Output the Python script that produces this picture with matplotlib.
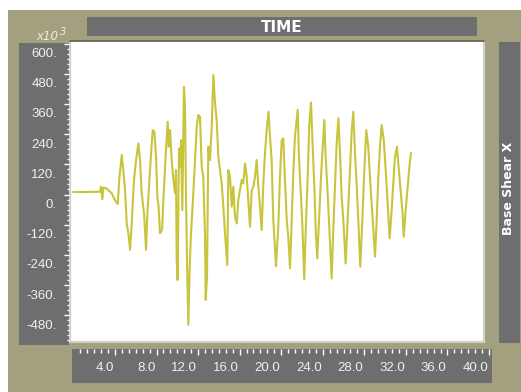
import matplotlib
matplotlib.use('Agg')
import matplotlib.pyplot as plt
from matplotlib.patches import Rectangle
from matplotlib.ticker import MultipleLocator, FixedLocator
from matplotlib.transforms import offset_copy

# colours
KHAKI = '#a2a07e'
PANEL = '#6e6e6e'
TRACE = '#c8c43c'
LABEL = '#f0f0f0'

# time history (time in s, base shear in 10^3)
time = [0.0, 1.28, 2.56, 2.66, 2.78, 2.88, 3.2, 3.68, 4.0, 4.26,
        4.42, 4.65, 4.8, 4.97, 5.13, 5.29, 5.45, 5.61, 5.83, 6.03,
        6.25, 6.41, 6.57, 6.8, 6.99, 7.12, 7.37, 7.63, 7.79, 7.95,
        8.08, 8.2, 8.33, 8.53, 8.72, 8.91, 9.07, 9.18, 9.3, 9.46,
        9.62, 9.78, 9.87, 9.94, 10.03, 10.16, 10.26, 10.36, 10.48, 10.64,
        10.74, 10.84, 10.93, 11.06, 11.19, 11.32, 11.54, 11.7, 11.87, 12.02,
        12.18, 12.35, 12.5, 12.67, 12.73, 12.86, 12.98, 13.15, 13.31, 13.47,
        13.63, 13.79, 13.95, 14.11, 14.27, 14.43, 14.59, 14.81, 14.91, 15.07,
        15.24, 15.39, 15.55, 15.72, 15.87, 16.03, 16.2, 16.35, 16.52, 16.68,
        16.83, 17.0, 17.16, 17.32, 17.48, 17.64, 17.8, 17.96, 18.12, 18.28,
        18.44, 18.6, 18.78, 18.92, 19.08, 19.24, 19.5, 19.72, 19.88, 20.05,
        20.2, 20.36, 20.53, 20.68, 20.85, 21.01, 21.16, 21.32, 21.59, 21.71,
        21.9, 22.03, 22.22, 22.36, 22.55, 22.7, 22.87, 22.99, 23.19, 23.32,
        23.47, 23.64, 23.83, 23.96, 24.15, 24.28, 24.47, 24.7, 24.86, 25.01,
        25.18, 25.34, 25.5, 25.66, 25.82, 26.02, 26.2, 26.4, 26.62, 26.79,
        26.94, 27.1, 27.27, 27.42, 27.61, 27.81, 28.0, 28.19, 28.38, 28.58,
        28.77, 29.03, 29.19, 29.35, 29.51, 29.67, 29.87, 30.06, 30.25, 30.44,
        30.63, 30.83, 30.95, 31.15, 31.27, 31.46, 31.66, 31.79, 31.98, 32.17,
        32.37, 32.49]
shear = [10, 10, 11, 31, -19, 27, 24, 5, -22, -38,
         64, 157, 97, 18, -115, -154, -220, -115, 58, 137,
         203, 137, 5, -75, -220, -75, 97, 256, 250, 150,
         -9, -48, -154, -141, 31, 177, 289, 190, 256, 137,
         58, 5, 97, -260, -340, 183, 110, 216, -62, 428,
         349, -22, -260, -518, -287, -154, 5, 137, 269, 316,
         309, 110, 71, -168, -419, -327, 190, 137, 269, 475,
         362, 296, 150, 97, 44, -48, -154, -280, 97, 71,
         -48, 31, -88, -115, -22, 18, 58, 44, 124, 71,
         -22, -128, 18, 31, 71, 137, 31, -48, -141, 44,
         164, 256, 329, 230, 137, -101, -285, -128, 71, 216,
         223, 58, -101, -168, -293, -101, 84, 230, 336, 150,
         -9, -115, -337, -141, 71, 276, 366, 230, 31, -141,
         -254, -101, 71, 164, 296, 150, 5, -194, -333, -141,
         31, 203, 303, 164, -9, -128, -274, -101, 97, 256,
         329, 164, 31, -101, -287, -101, 97, 256, 190, 44,
         -75, -247, -101, 71, 190, 276, 216, 97, -35, -174,
         -62, 71, 150, 190, 124, 31, -62, -168, -62, 31,
         124, 164]

x_major = [4, 8, 12, 16, 20, 24, 28, 32, 36, 40]
y_major = [-480, -360, -240, -120, 0, 120, 240, 360, 480, 600]

W, H = 521, 392


def box(x0, y0, x1, y1):
    # pixel box (top-left origin) -> figure fraction rect
    return [x0 / W, 1 - y1 / H, (x1 - x0) / W, (y1 - y0) / H]


def blank(ax):
    ax.set_facecolor(PANEL)
    ax.set_xticks([])
    ax.set_yticks([])
    for s in ax.spines.values():
        s.set_visible(False)


fig = plt.figure(figsize=(W / 100, H / 100), dpi=100)
fig.patch.set_facecolor('white')
fig.add_artist(Rectangle((8 / W, 0), 1 - 8 / W, 1 - 10 / H,
                         transform=fig.transFigure, facecolor=KHAKI,
                         edgecolor='none', zorder=0))

# title bar
ax_t = fig.add_axes(box(87, 17, 477, 36))
blank(ax_t)
ax_t.text(0.5, 0.21, 'TIME', transform=ax_t.transAxes, ha='center',
          va='baseline', color='white', fontsize=11, fontweight='bold',
          family='DejaVu Sans')

# right label bar
ax_r = fig.add_axes(box(499, 42, 520, 343))
blank(ax_r)
ax_r.text(0.6, 0.515, 'Base Shear X', transform=ax_r.transAxes,
          rotation=90, rotation_mode='anchor', ha='center', va='baseline',
          color='white', fontsize=9, fontweight='bold', family='DejaVu Sans')

# main plot
ax = fig.add_axes(box(70, 41, 484, 342))
ax.set_facecolor('white')
ax.plot(time, shear, color=TRACE, lw=1.5)
ax.set_xlim(-0.33, 39.52)
ax.set_ylim(-586, 610)
ax.set_xticks([])
ax.set_yticks([])
ax.spines['top'].set_color('#5e5d48')
ax.spines['top'].set_linewidth(1.2)
for side in ['left', 'bottom', 'right']:
    ax.spines[side].set_color('#cfcfc8')
    ax.spines[side].set_linewidth(1.6)

# left value axis panel
ax_l = fig.add_axes(box(19, 43, 69, 345))
ax_l.set_facecolor(PANEL)
for s in ax_l.spines.values():
    s.set_visible(False)
ax_l.set_xticks([])
ax_l.set_ylim(-598, 602)
ax_l.yaxis.set_ticks_position('right')
ax_l.yaxis.set_major_locator(FixedLocator(y_major + [-600]))
ax_l.yaxis.set_minor_locator(MultipleLocator(20))
ax_l.tick_params(axis='y', which='major', direction='in', length=3.6,
                 width=1, color='white', labelright=False, labelleft=False)
ax_l.tick_params(axis='y', which='minor', direction='in', length=1.1,
                 width=1, color='white')
ytr = offset_copy(ax_l.get_yaxis_transform(), fig=fig, x=0, y=-13.5,
                  units='dots')
for v in y_major:
    ax_l.text(0.76, v, f'{v:.0f}.', transform=ytr, ha='right',
              va='baseline', color=LABEL, fontsize=9.5,
              family='Liberation Sans')

# bottom time axis panel
ax_b = fig.add_axes(box(72, 349, 492, 383))
ax_b.set_facecolor(PANEL)
for s in ax_b.spines.values():
    s.set_visible(False)
ax_b.set_yticks([])
ax_b.set_xlim(-0.135, 40.29)
ax_b.xaxis.set_ticks_position('top')
ax_b.xaxis.set_major_locator(FixedLocator(x_major))
minor = [k * 2 / 3 for k in range(1, 61) if k % 6]
ax_b.xaxis.set_minor_locator(FixedLocator(minor))
ax_b.tick_params(axis='x', which='major', direction='in', length=4.5,
                 width=1, color='white', labeltop=False, labelbottom=False)
ax_b.tick_params(axis='x', which='minor', direction='in', length=2.6,
                 width=1, color='white')
xtr = offset_copy(ax_b.get_xaxis_transform(), fig=fig, x=-1, y=0,
                  units='dots')
for v in x_major:
    ax_b.text(v, 0.34, f'{v:.1f}', transform=xtr, ha='right',
              va='baseline', color=LABEL, fontsize=9.5,
              family='Liberation Sans')

# x10^3 multiplier above the value axis
fig.text(36.7 / W, 1 - 40 / H, 'x10', style='italic', color='#ecece4',
         fontsize=8.5, family='DejaVu Sans', va='baseline')
fig.text(59.5 / W, 1 - 35 / H, '3', style='italic', color='#ecece4',
         fontsize=7, family='DejaVu Sans', va='baseline')

fig.savefig('out.png', dpi=100, facecolor=fig.get_facecolor())
